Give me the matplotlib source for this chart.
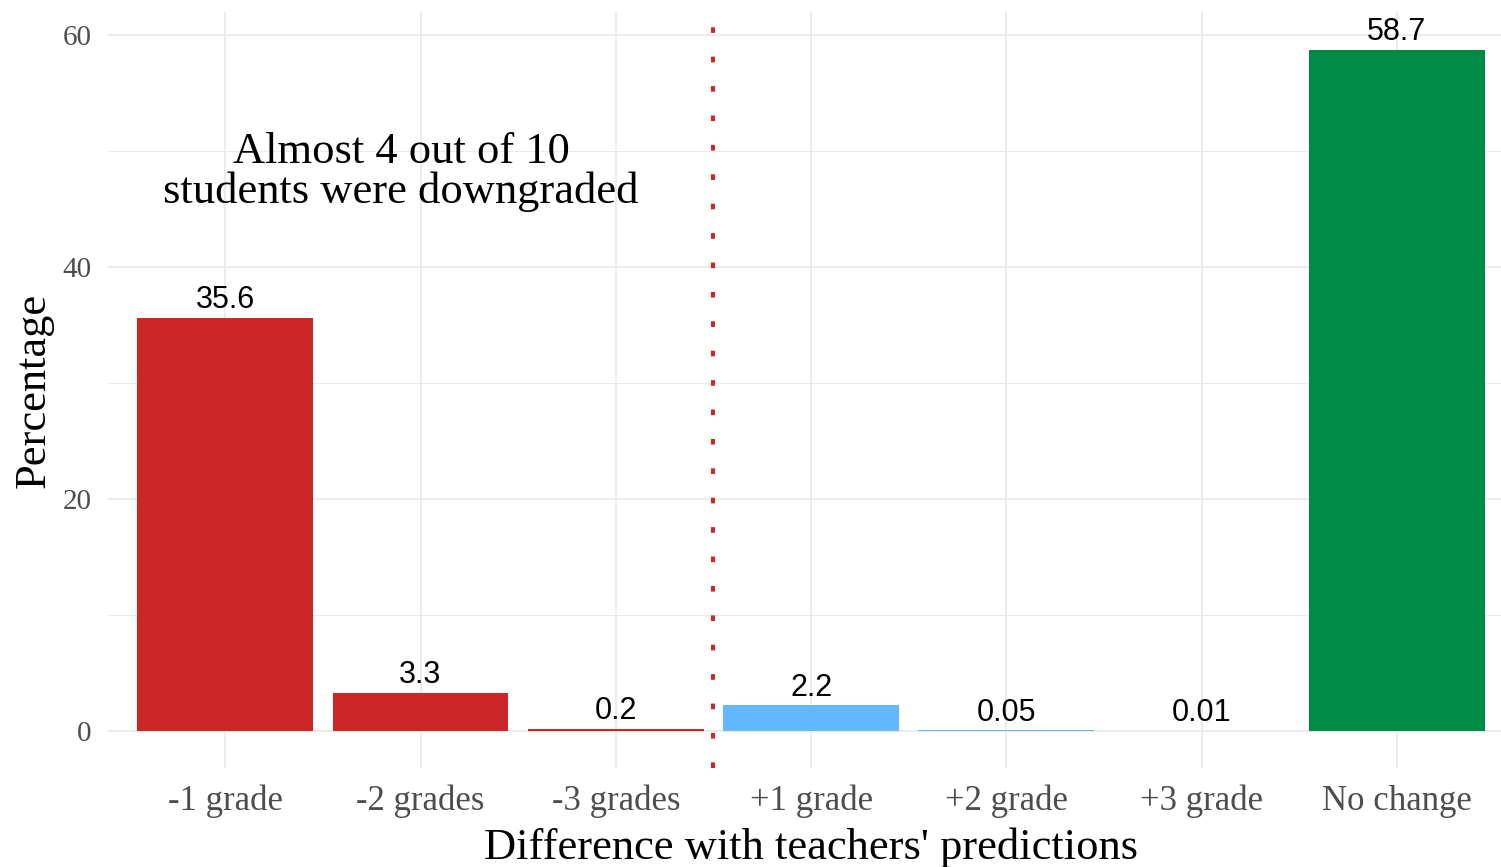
import numpy as np
import matplotlib
matplotlib.use("Agg")
import matplotlib.pyplot as plt

# data
categories = ["-1 grade", "-2 grades", "-3 grades", "+1 grade",
              "+2 grade", "+3 grade", "No change"]
percentages = [35.6, 3.3, 0.2, 2.2, 0.05, 0.01, 58.7]
value_labels = ["35.6", "3.3", "0.2", "2.2", "0.05", "0.01", "58.7"]
bar_colors = ["#CD2626", "#CD2626", "#CD2626", "#63B8FF",
              "#63B8FF", "#63B8FF", "#008B45"]
y_ticks = [0, 20, 40, 60]
y_minor = [10, 30, 50]
note = "Almost 4 out of 10\nstudents were downgraded"

serif = "Liberation Serif"
sans = "Liberation Sans"
grid_col = "#EBEBEB"

fig = plt.figure(figsize=(15.01, 8.67), dpi=100)
ax = fig.add_axes([0.0720, 0.1142, 0.9367, 0.872])

x = np.arange(1, len(categories) + 1)
ax.bar(x, percentages, width=0.9, color=bar_colors, zorder=2)

for xi, v, lab in zip(x, percentages, value_labels):
    ax.annotate(lab, (xi, v), xytext=(0, 2), textcoords="offset points",
                ha="center", va="bottom", fontsize=22, family=sans,
                color="black", zorder=4)

# dividing line between downgrades and upgrades
ax.axvline(3.5, color="#CD2626", lw=2.9, linestyle=(0, (1.4, 5.9)),
           dash_capstyle="butt", zorder=3)

ax.text(1.9, 48.2, note, ha="center", va="center", fontsize=32,
        family=serif, linespacing=0.98, color="black", zorder=4)

ax.set_xlim(0.4, 7.6)
ax.set_ylim(-3.19, 61.98)
ax.set_xticks(x)
ax.set_xticklabels(categories)
ax.set_yticks(y_ticks)
ax.set_yticks(y_minor, minor=True)

ax.grid(True, which="major", color=grid_col, lw=1.3, zorder=0)
ax.grid(True, which="minor", axis="y", color=grid_col, lw=0.7, zorder=0)
ax.set_axisbelow(True)
for s in ax.spines.values():
    s.set_visible(False)

ax.tick_params(axis="both", which="both", length=0)
ax.tick_params(axis="x", pad=12)
ax.tick_params(axis="y", pad=12)
for t in ax.get_xticklabels():
    t.set_family(serif)
    t.set_fontsize(25)
    t.set_color("#4D4D4D")
for t in ax.get_yticklabels():
    t.set_family(serif)
    t.set_fontsize(21)
    t.set_color("#4D4D4D")

ax.set_xlabel("Difference with teachers' predictions", family=serif,
              fontsize=32, labelpad=7)
ax.set_ylabel("Percentage", family=serif, fontsize=32, labelpad=6)

fig.savefig("out.png", dpi=100)
